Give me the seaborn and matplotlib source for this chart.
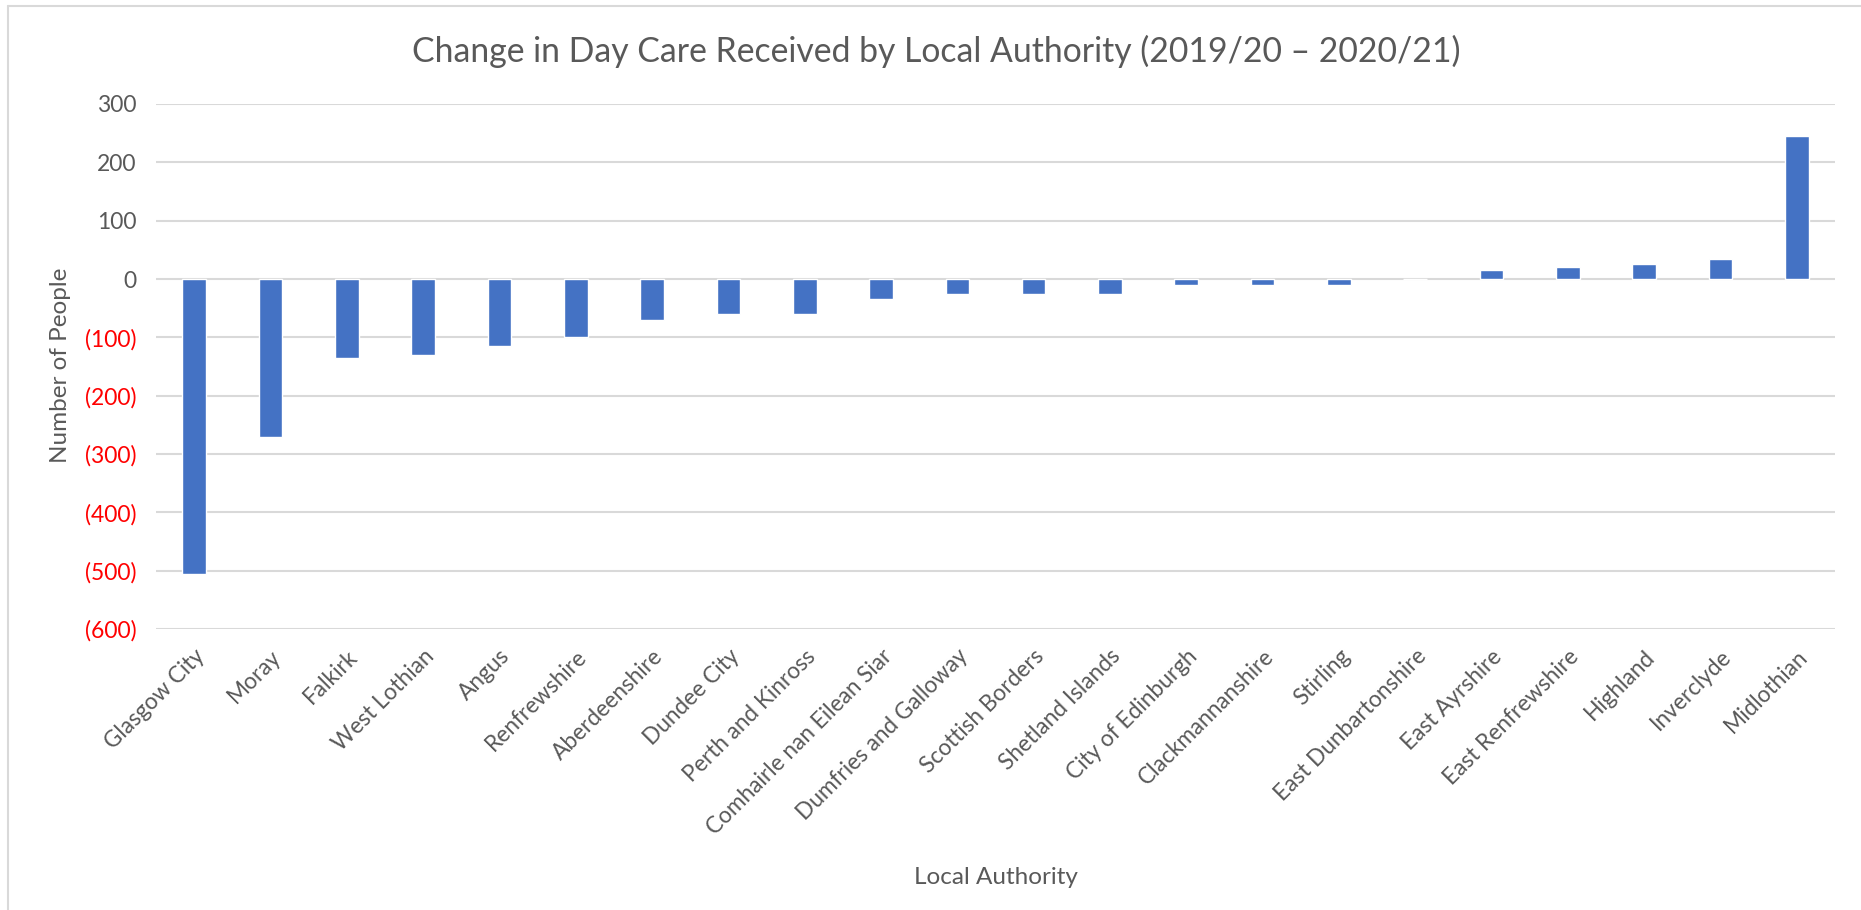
import matplotlib
matplotlib.use("Agg")
import matplotlib.pyplot as plt
import seaborn as sns
import pandas as pd
from matplotlib.ticker import FuncFormatter
from matplotlib.lines import Line2D

authorities = ["Glasgow City", "Moray", "Falkirk", "West Lothian", "Angus", "Renfrewshire",
               "Aberdeenshire", "Dundee City", "Perth and Kinross", "Comhairle nan Eilean Siar",
               "Dumfries and Galloway", "Scottish Borders", "Shetland Islands", "City of Edinburgh",
               "Clackmannanshire", "Stirling", "East Dunbartonshire", "East Ayrshire",
               "East Renfrewshire", "Highland", "Inverclyde", "Midlothian"]
change = [-505, -270, -135, -130, -115, -100, -70, -60, -60, -35, -25, -25, -25, -10,
          -10, -10, 0, 15, 20, 25, 35, 245]
y_ticks = [300, 200, 100, 0, -100, -200, -300, -400, -500, -600]

title = "Change in Day Care Received by Local Authority (2019/20 \u2013 2020/21)"
x_label = "Local Authority"
y_label = "Number of People"

df = pd.DataFrame({"Local Authority": authorities, "Change": change})

sns.set_theme(style="white")
plt.rcParams["font.family"] = ["Lato", "DejaVu Sans"]

TXT = "#595959"
W, H = 1861, 910
fig = plt.figure(figsize=(W / 100, H / 100), dpi=100)
ax = fig.add_axes([156 / W, 1 - 629 / H, (1835 - 156) / W, (629 - 104) / H])

sns.barplot(data=df, x="Local Authority", y="Change", color="#4472C4",
            width=0.31, saturation=1, ax=ax, zorder=3)

ax.set_ylim(-600, 300)
ax.set_xlim(-0.5, len(authorities) - 0.5)
ax.set_yticks(y_ticks)
ax.yaxis.set_major_formatter(FuncFormatter(lambda v, p: f"({abs(int(v))})" if v < 0 else f"{int(v)}"))
ax.grid(axis="y", color="#D9D9D9", linewidth=1.5, zorder=0)
ax.grid(axis="x", visible=False)
for s in ax.spines.values():
    s.set_visible(False)

ax.tick_params(axis="y", length=0, pad=14, labelsize=16.5, labelcolor=TXT)
for lbl, v in zip(ax.get_yticklabels(), y_ticks):
    lbl.set_color("#FF0000" if v < 0 else TXT)
ax.tick_params(axis="x", length=0, pad=12, labelsize=16.3, labelcolor=TXT)
plt.setp(ax.get_xticklabels(), rotation=45, ha="right", rotation_mode="anchor")

ax.set_xlabel(x_label, fontsize=17.5, color=TXT)
ax.set_ylabel(y_label, fontsize=17.5, color=TXT)
ax.xaxis.set_label_coords((996 - 156) / (1835 - 156), -(867 - 629) / (629 - 104))
ax.yaxis.set_label_coords(-(156 - 71) / (1835 - 156), (629 - 365) / (629 - 104))

fig.text(936 / W, 1 - 51 / H, title, ha="center", va="center", fontsize=24.3, color=TXT)

# chart border (Excel-like)
fig.add_artist(Line2D([8 / W, 1], [1 - 5.5 / H, 1 - 5.5 / H], color="#D9D9D9", linewidth=1.5))
fig.add_artist(Line2D([8 / W, 8 / W], [0, 1 - 5.5 / H], color="#D9D9D9", linewidth=1.5))

fig.savefig("out.png", dpi=100, facecolor="white")
